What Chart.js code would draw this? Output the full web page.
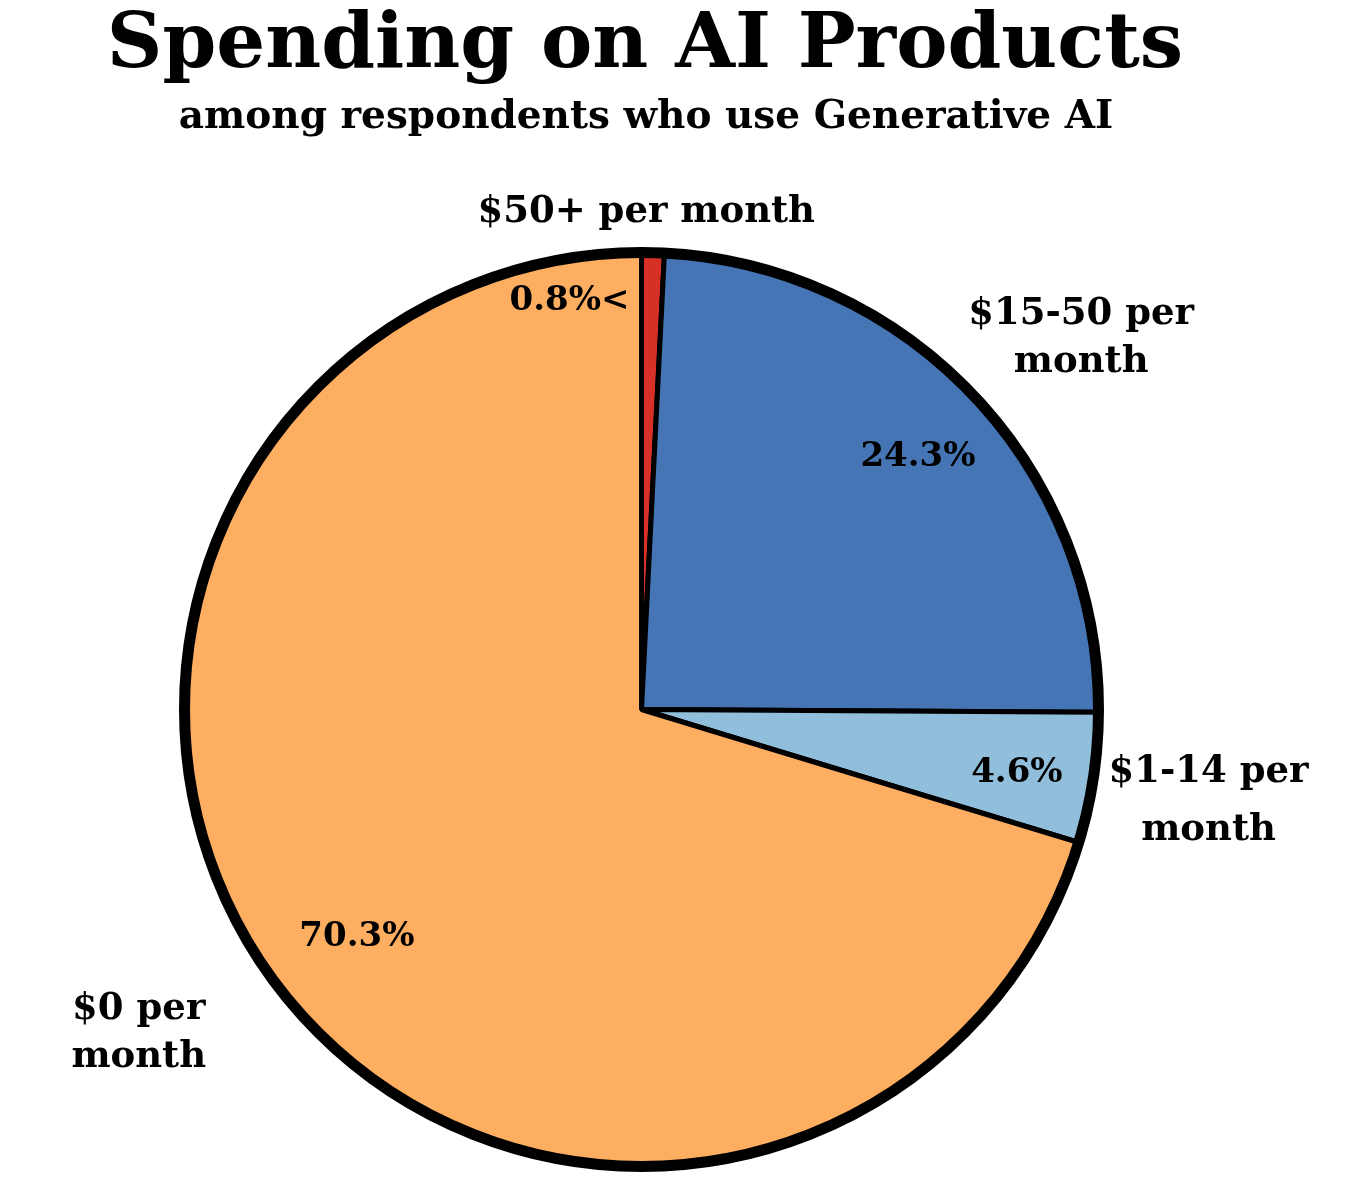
<!DOCTYPE html>
<html>
<head>
<meta charset="utf-8">
<title>Spending on AI Products</title>
<script src="https://cdn.jsdelivr.net/npm/chart.js@4.4.1/dist/chart.umd.min.js"></script>
<style>
    body { margin: 0; background: #ffffff; }
    canvas { display: block; }
</style>
</head>
<body>
<canvas id="spendChart" width="1345" height="1183"></canvas>
<script>
// Data (clockwise from the top)
const categories = [['$50+ per month'], ['$15-50 per', 'month'], ['$1-14 per', 'month'], ['$0 per', 'month']];
const shares = [0.8, 24.3, 4.6, 70.3];
const sliceColors = ['#d73027', '#4575b4', '#91bfdb', '#fdae61'];

const titleText = 'Spending on AI Products';
const subtitleText = 'among respondents who use Generative AI';

const FONT = '"DejaVu Serif", "Liberation Serif", serif';

// label placement: distance in radii + small angle nudge (deg) off the slice middle
const catDist = [1.094, 1.263, 1.256, 1.305];
const catShift = [-0.9, 3.0, 0.3, 4.0];
const catGap = [48, 48, 58, 48];
const valDist = [0.9, 0.823, 0.832, 0.794];
const valShift = [0, 0.7, 0.5, -1.8];

const labelPlugin = {
    id: 'labelPlugin',
    afterDatasetsDraw(chart) {
        const ctx = chart.ctx;
        const meta = chart.getDatasetMeta(0);
        const arc0 = meta.data[0];
        const cx = arc0.x, cy = arc0.y, R = arc0.outerRadius;
        const yFix = 3;

        // thick outer ring
        ctx.save();
        ctx.beginPath();
        ctx.arc(cx, cy, R, 0, Math.PI * 2);
        ctx.lineWidth = 11;
        ctx.strokeStyle = '#000';
        ctx.stroke();
        ctx.restore();

        ctx.save();
        ctx.fillStyle = '#000';

        // title + subtitle
        ctx.textAlign = 'center';
        ctx.textBaseline = 'alphabetic';
        ctx.font = 'bold 77px ' + FONT;
        ctx.fillText(titleText, 645, 67);
        ctx.font = 'bold 39px ' + FONT;
        ctx.fillText(subtitleText, 646, 128);

        ctx.textBaseline = 'middle';
        meta.data.forEach((arc, i) => {
            const mid = (arc.startAngle + arc.endAngle) / 2;

            // category labels outside
            const a = mid + catShift[i] * Math.PI / 180;
            ctx.font = 'bold 37px ' + FONT;
            ctx.textAlign = 'center';
            const lines = categories[i];
            const lx = cx + Math.cos(a) * R * catDist[i];
            const ly = cy + Math.sin(a) * R * catDist[i] + yFix;
            lines.forEach((ln, k) => {
                ctx.fillText(ln, lx, ly + (k - (lines.length - 1) / 2) * catGap[i]);
            });

            // value labels inside
            const b = mid + valShift[i] * Math.PI / 180;
            ctx.font = 'bold 34px ' + FONT;
            const txt = shares[i].toFixed(1) + '%';
            if (i === 0) {
                // slice too thin: put it beside, pointing at it
                ctx.textAlign = 'right';
                ctx.fillText(txt + '<', cx - 12, cy - R * valDist[i] + yFix);
            } else {
                ctx.fillText(txt, cx + Math.cos(b) * R * valDist[i], cy + Math.sin(b) * R * valDist[i] + yFix);
            }
        });
        ctx.restore();
    }
};

new Chart(document.getElementById('spendChart'), {
    type: 'pie',
    data: {
        labels: categories.map(c => c.join(' ')),
        datasets: [{
            data: shares,
            backgroundColor: sliceColors,
            borderColor: '#000000',
            borderWidth: 5
        }]
    },
    options: {
        responsive: false,
        animation: false,
        layout: {
            padding: { left: 182, right: 244, top: 250, bottom: 14 }
        },
        plugins: {
            legend: { display: false },
            tooltip: { enabled: false }
        }
    },
    plugins: [labelPlugin]
});
</script>
</body>
</html>
